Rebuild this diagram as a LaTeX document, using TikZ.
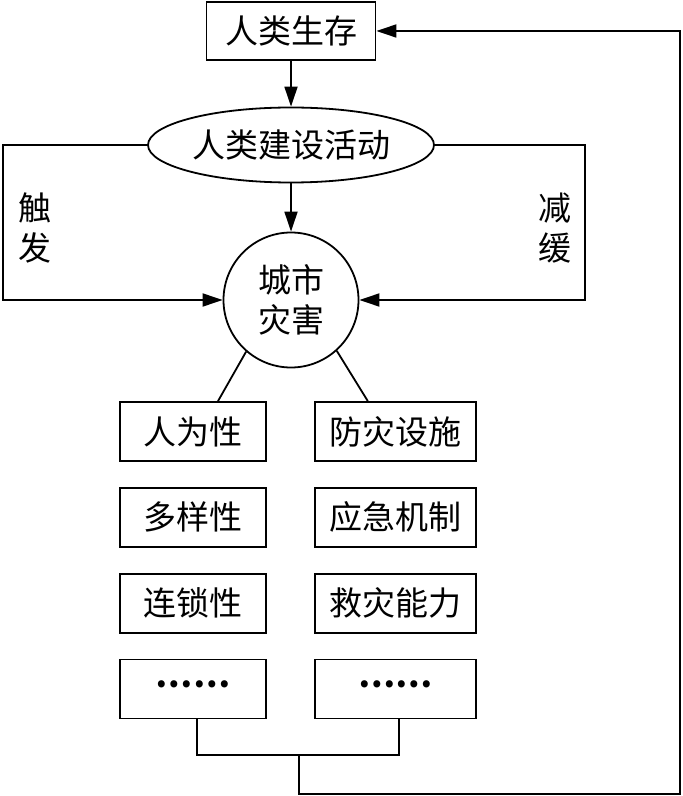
\documentclass[tikz,border=0pt]{standalone}
\usepackage{fontspec}
\setmainfont{Noto Sans CJK SC}
\usetikzlibrary{arrows.meta, positioning, shapes.geometric}

\begin{document}
\begin{tikzpicture}[x=1pt, y=1pt,
			box/.style={draw, line width=0.9pt, minimum width=73pt, minimum height=29.5pt, inner sep=0pt},
			widebox/.style={box, minimum width=80.5pt},
			arrow/.style={-{Triangle[length=10pt,width=6.5pt]}, line width=0.9pt},
			link/.style={line width=0.9pt},
			font=\fontsize{16.5}{20}\selectfont
			]
			\useasboundingbox (0,0) rectangle (341.5,-398);
			
			% --- top ---
			\node[box, minimum width=84.5pt, minimum height=29pt] (live) at (145.5,-15.5) {人类生存};
			\node[draw, ellipse, line width=0.9pt, inner sep=0pt, minimum width=143pt, minimum height=37.5pt] (build) at (145.5,-72.5) {人类建设活动};
			\node[draw, circle, line width=0.9pt, inner sep=0pt, minimum size=67.5pt, align=center] (disaster) at (145.5,-150) {城市\\灾害};
			
			% --- side labels ---
			\node[align=center] (trigger) at (17.5,-114) {触\\发};
			\node[align=center] (relief) at (277.5,-114) {减\\缓};
			
			% --- left column ---
			\node[box] (l1) at (96.5,-215.75) {人为性};
			\node[box, below=12.5pt of l1] (l2) {多样性};
			\node[box, below=12.5pt of l2] (l3) {连锁性};
			\node[box, below=12.5pt of l3] (l4) {\raisebox{0.3em}{\textbf{……}}};
			
			% --- right column ---
			\node[widebox, right=23.5pt of l1] (r1) {防灾设施};
			\node[widebox, below=12.5pt of r1] (r2) {应急机制};
			\node[widebox, below=12.5pt of r2] (r3) {救灾能力};
			\node[widebox, below=12.5pt of r3] (r4) {\raisebox{0.3em}{\textbf{……}}};
			
			% --- corners ---
			\coordinate (lcorner) at (1.5,-150);
			\coordinate (rcorner) at (292.5,-150);
			\coordinate (busmid) at (149.5,-377.5);
			\coordinate (loopend) at (340,-397);
			
			% --- arrows ---
			\draw[arrow] (live) -- (build);
			\draw[arrow] (build) -- (disaster);
			\draw[arrow] (build.west) -| (lcorner) -- (disaster.west);
			\draw[arrow] (build.east) -| (rcorner) -- (disaster.east);
			
			\draw[link] (disaster.229) -- ([xshift=12.5pt]l1.north);
			\draw[link] (disaster.312) -- ([xshift=-13.75pt]r1.north);
			
			% --- bottom loop back to top ---
			\draw[link] ([xshift=2pt]l4.south) |- (busmid) -| ([xshift=2pt]r4.south);
			\draw[arrow] (busmid) |- (loopend) |- (live.east);
			
	\end{tikzpicture}
\end{document}
